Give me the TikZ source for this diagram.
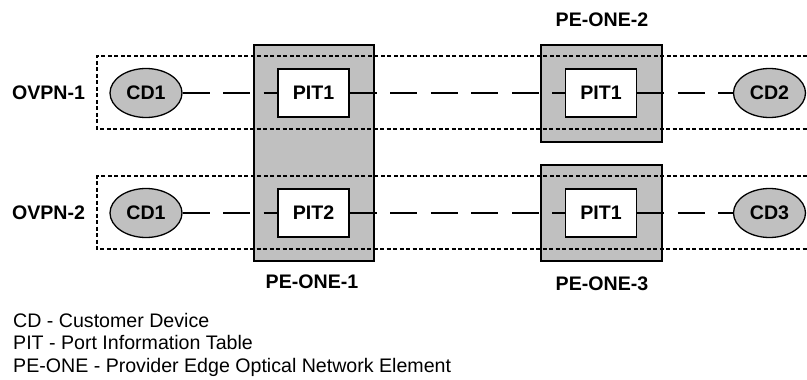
\documentclass[tikz,border=0pt]{standalone}
\usepackage{fontspec}
\setmainfont{Liberation Sans}
\usepackage{tikz}
\usetikzlibrary{shapes.geometric, positioning}
\definecolor{pegray}{RGB}{192, 192, 192}

\begin{document}
\begin{tikzpicture}[x=1pt, y=-1pt,
    pebox/.style={draw, fill=pegray, line width=1.7pt, inner sep=0pt},
    pitbox/.style={draw, fill=white, line width=1.7pt, minimum width=71pt, minimum height=48pt, inner sep=0pt, font=\fontsize{19.6}{22}\selectfont\bfseries},
    cdnode/.style={ellipse, draw, fill=pegray, line width=1.3pt, minimum width=72pt, minimum height=49pt, inner sep=0pt, font=\fontsize{19.6}{22}\selectfont\bfseries},
    vpnframe/.style={line width=1.2pt, dash pattern=on 4pt off 2.5pt},
    link/.style={line width=2.8pt, dash pattern=on 27pt off 13.5pt},
    biglabel/.style={font=\fontsize{19.6}{22}\selectfont\bfseries},
    legend/.style={anchor=base west, inner sep=0pt, font=\fontsize{19.6}{22}\selectfont}]
  \useasboundingbox (0, 0) rectangle (807, 380);

  % Provider edge elements
  \node[pebox, minimum width=120pt, minimum height=216pt] (pe1) at (314, 153) {};
  \node[pebox, minimum width=121pt, minimum height=97pt] (pe2) at (601.5, 93.5) {};
  \node[pebox, minimum width=121pt, minimum height=96pt] (pe3) at (601.5, 213) {};
  \node[biglabel] (pe1lbl) at (312, 282) {PE-ONE-1};
  \node[biglabel] (pe2lbl) at (602, 20) {PE-ONE-2};
  \node[biglabel] (pe3lbl) at (602, 284) {PE-ONE-3};

  % OVPN frames
  \draw[vpnframe] (807, 56) -| (97, 129) -- (807, 129);
  \draw[vpnframe] (807, 176) -| (97, 249) -- (807, 249);
  \node[biglabel] (vpn1) at (48.5, 93) {OVPN-1};
  \node[biglabel] (vpn2) at (48.5, 213) {OVPN-2};

  % OVPN-1
  \node[cdnode] (cd1a) at (146, 93) {CD1};
  \node[pitbox] (pit1a) at (313.5, 93) {PIT1};
  \node[pitbox] (pit1b) at (601, 93) {PIT1};
  \node[cdnode] (cd2) at (769.5, 93) {CD2};
  \draw[link] (cd1a) -- (pit1a);
  \draw[link] (pit1a) -- (pit1b);
  \draw[link] (pit1b) -- (cd2);

  % OVPN-2
  \node[cdnode] (cd1b) at (146, 213) {CD1};
  \node[pitbox] (pit2) at (313.5, 213) {PIT2};
  \node[pitbox] (pit1c) at (601, 213) {PIT1};
  \node[cdnode] (cd3) at (769.5, 213) {CD3};
  \draw[link] (cd1b) -- (pit2);
  \draw[link] (pit2) -- (pit1c);
  \draw[link] (pit1c) -- (cd3);

  % Legend
  \node[legend] (leg1) at (13, 327) {CD - Customer Device};
  \node[legend] (leg2) at (13, 349.5) {PIT - Port Information Table};
  \node[legend] (leg3) at (13, 372) {PE-ONE - Provider Edge Optical Network Element};
\end{tikzpicture}
\end{document}
